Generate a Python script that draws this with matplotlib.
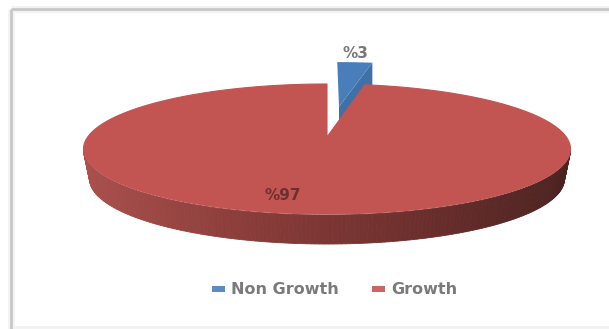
import numpy as np
import matplotlib
matplotlib.use('Agg')
import matplotlib.pyplot as plt
from matplotlib.colors import LinearSegmentedColormap
from matplotlib.patches import Polygon, Rectangle

categories = ['Non Growth', 'Growth']
shares = [3, 97]
colors = ['#4a7ebb', '#c25552']

# pie geometry in pixels
cx, cy = 327, 137
A, B = 239.3, 62.8
q = 0.1846
depth = 30
floor_scale = 0.975
blue_du, blue_dv = 0.055, 0.53

def project(u, v):
    # circle coordinates to screen, the far side comes out smaller
    w = 1 + q * v
    return cx + A * u / w, cy - B * v / w

def sector(start, stop, du=0, dv=0):
    t = np.radians(np.linspace(start, stop, 400))
    return np.sin(t) + du, np.cos(t) + dv

fig = plt.figure(figsize=(6.09, 3.29), dpi=100)
ax = fig.add_axes([0, 0, 1, 1])
ax.set_xlim(0, 609)
ax.set_ylim(329, 0)
ax.axis('off')

# frame of the chart area
ax.plot([11, 11], [329, 9], color='#f3f3f3', lw=5, solid_capstyle='butt')
ax.plot([11, 609], [9, 9], color='#f3f3f3', lw=5, solid_capstyle='butt')
ax.plot([11, 11], [329, 9], color='#c8c8c8', lw=2, solid_capstyle='butt')
ax.plot([11, 609], [9, 9], color='#c8c8c8', lw=2, solid_capstyle='butt')
ax.plot([16, 609], [326.5, 326.5], color='#f2f2f2', lw=2)

sweep = [s * 3.6 for s in shares]

# exploded small slice, behind the big one
u, v = sector(0, sweep[0], blue_du, blue_dv)
ax0, ay0 = project(blue_du, blue_dv)
x1, y1 = project(u, v)
ax.add_patch(Polygon([(ax0, ay0), (x1[-1], y1[-1]), (x1[-1], y1[-1] + depth), (ax0, ay0 + depth)],
                     fc='#3f70a8', ec='none'))
ax.add_patch(Polygon(np.r_[[(ax0, ay0)], np.c_[x1, y1]], fc=colors[0], ec='none'))

# outer wall of the big slice, shaded from left to right
wall = LinearSegmentedColormap.from_list('wall', ['#a94f4c', '#8a3d3a', '#6e302e', '#4c2321'])
u, v = sector(sweep[0], 360)
x2, y2 = project(u, v)
left, right = x2.min(), x2.max()
xb = cx + (x2 - cx) * floor_scale
yb = y2 + depth
for i in range(len(u) - 1):
    if v[i] < -q and v[i + 1] < -q:
        quad = [(x2[i], y2[i] + 1), (x2[i + 1], y2[i + 1] + 1), (xb[i + 1], yb[i + 1]), (xb[i], yb[i])]
        shade = wall((x2[i] - left) / (right - left))
        ax.add_patch(Polygon(quad, fc=shade, ec=shade, lw=0.6))

ax.add_patch(Polygon(np.r_[[project(0, 0)], np.c_[x2, y2]], fc=colors[1], ec=colors[1], lw=0.8))

ax.text(355, 53, f'%{shares[0]}', color='#777777', fontsize=11, fontweight='bold', ha='center', va='center')
ax.text(283, 195, f'%{shares[1]}', color='#6b302e', fontsize=11, fontweight='bold', ha='center', va='center')

# legend
for name, col, bx, tx in zip(categories, colors, [212, 372], [231, 391]):
    ax.add_patch(Rectangle((bx, 285.5), 13, 6, fc=col, ec='none', alpha=0.9))
    ax.text(tx, 289, name, color='#7a7a7a', fontsize=11.5, fontweight='bold', ha='left', va='center')

fig.savefig('out.png', dpi=100)
